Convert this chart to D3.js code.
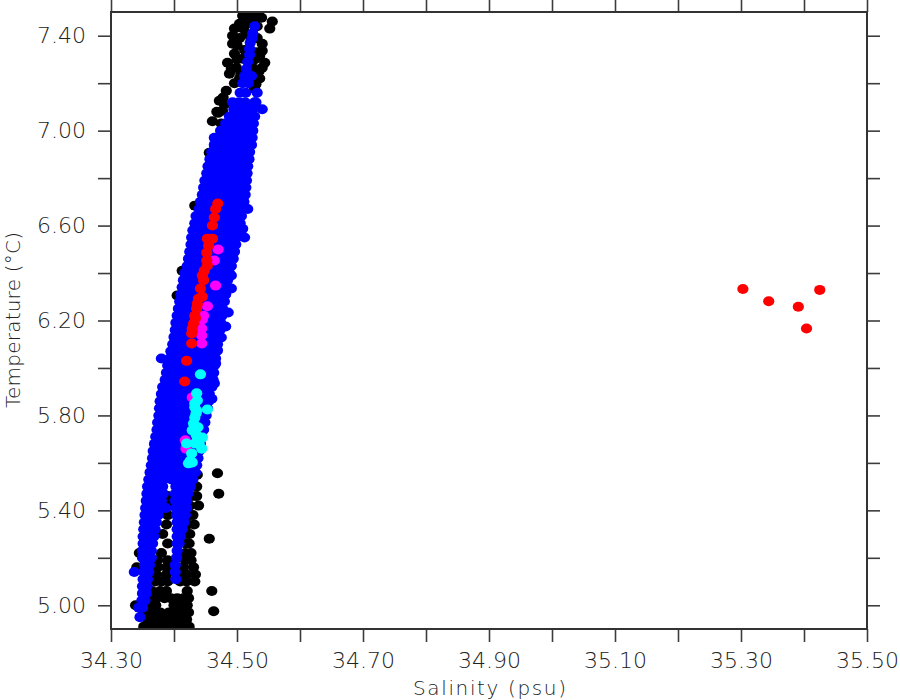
<!DOCTYPE html>
<html><head><meta charset="utf-8">
<script src="https://cdnjs.cloudflare.com/ajax/libs/d3/7.8.5/d3.min.js"></script>
<style>html,body{margin:0;padding:0;background:#fff}svg{display:block}text{font-family:"DejaVu Sans",sans-serif;font-weight:200;fill:#222}</style>
</head><body><div id="chart"></div>
<script>
const xMajorTicks = [34.3,34.5,34.7,34.9,35.1,35.3,35.5];
const xAllTicks = [34.3,34.4,34.5,34.6,34.7,34.8,34.9,35.0,35.1,35.2,35.3,35.4,35.5];
const yMajorTicks = [5.0,5.4,5.8,6.2,6.6,7.0,7.4];
const yAllTicks = [5.0,5.2,5.4,5.6,5.8,6.0,6.2,6.4,6.6,6.8,7.0,7.2,7.4];
const xTitle = "Salinity (psu)";
const yTitle = "Temperature (°C)";

// black: rows of temperature with the salinities read in that row
const blackTemps = [4.91,4.94,4.97,5.00,5.03,5.06,5.10,5.13,5.16,5.19,5.22,5.26,5.30,5.34,5.38,5.42,5.46,5.50,5.55];
const blackSalRows = [
 [34.352,34.366,34.378,34.388,34.396,34.405,34.415,34.424],
 [34.358,34.372,34.384,34.391,34.40,34.41,34.42],
 [34.352,34.365,34.378,34.392,34.402,34.412,34.423],
 [34.339,34.36,34.371,34.40,34.41,34.421],
 [34.362,34.372,34.385,34.395,34.405,34.415,34.423],
 [34.365,34.378,34.388,34.421],
 [34.37,34.38,34.39,34.41,34.42,34.433],
 [34.372,34.388,34.412,34.42,34.434],
 [34.341,34.374,34.388,34.415,34.431],
 [34.374,34.39,34.418,34.427],
 [34.345,34.38,34.418,34.427],
 [34.39,34.418,34.424],
 [34.382,34.42,34.425],
 [34.388,34.422,34.432],
 [34.39,34.424,34.43],
 [34.392,34.425,34.439],
 [34.39,34.428,34.436],
 [34.436],
 [34.437]
];
const blackOutS = [34.469,34.471,34.456,34.460,34.463,
 34.509,34.52,34.533,34.556,34.552,34.496,34.493,34.504,34.515,34.539,34.493,34.54,34.54,34.496,34.536,34.485,34.491,34.499,34.544,34.54,34.504,34.536,34.528,34.483,34.472,34.477,34.461,34.475,34.475,34.456,34.433,34.413,34.405,34.509,34.504,34.515,34.525,34.53,34.48,34.47,
 34.50,34.51,34.525,34.532,34.512,34.535,34.50,34.506,34.528,34.488,34.496,34.534,34.478,34.468,34.524,34.532,34.522,34.53];
const blackOutT = [5.556,5.47,5.28,5.06,4.975,
 7.484,7.484,7.484,7.46,7.43,7.43,7.4,7.45,7.45,7.476,7.366,7.366,7.337,7.324,7.316,7.286,7.26,7.265,7.286,7.265,7.22,7.22,7.177,7.168,7.126,7.084,7.04,7.03,6.987,6.907,6.684,6.41,6.305,7.303,7.39,7.408,7.265,7.196,7.11,7.075,
 7.36,7.43,7.47,7.44,7.34,7.25,7.30,7.24,7.30,7.24,7.2,7.25,7.14,7.08,7.33,7.39,7.39,7.33];

// blue: rows of temperature with the salinities read in that row
const blueTemps = [4.95,4.99,5.02,5.05,5.08,5.11,5.14,5.17,5.20,5.23,5.26,5.29,5.32,5.35,5.38,5.41,5.44,5.47,5.50,5.53,5.56,5.59,5.62,5.65,5.68,5.71,5.74,5.77,5.80,5.83,5.86,5.89,5.92,5.95,5.98,6.01,6.04,6.07,6.10,6.13,6.16,6.19,6.22,6.25,6.28,6.31,6.34,6.37,6.40,6.43,6.46,6.49,6.52,6.55,6.58,6.61,6.64,6.67,6.70,6.73,6.76,6.79,6.82,6.85,6.88,6.91,6.94,6.97,7.00,7.03,7.06,7.09,7.12,7.16,7.20,7.23,7.26,7.29,7.32,7.345,7.37,7.39,7.41,7.44];
const blueSalRows = [
 [34.346],
 [34.344,34.35],
 [34.349,34.354],
 [34.35,34.356],
 [34.35,34.357],
 [34.351,34.358,34.403],
 [34.337,34.352,34.36,34.402],
 [34.353,34.361,34.402],
 [34.35,34.358,34.364,34.404],
 [34.35,34.357,34.364,34.405],
 [34.351,34.358,34.366,34.405,34.408],
 [34.351,34.358,34.365,34.368,34.405,34.41],
 [34.352,34.36,34.37,34.405,34.413],
 [34.353,34.362,34.372,34.405,34.416],
 [34.354,34.363,34.375,34.404,34.412,34.418],
 [34.355,34.366,34.378,34.387,34.403,34.412,34.42],
 [34.356,34.367,34.38,34.402,34.41,34.42],
 [34.357,34.37,34.383,34.402,34.412,34.422],
 [34.358,34.37,34.382,34.403,34.414,34.426],
 [34.36,34.372,34.384,34.396,34.408,34.42,34.43],
 [34.362,34.368,34.38,34.392,34.404,34.416,34.428,34.434],
 [34.364,34.376,34.388,34.40,34.412,34.424,34.436],
 [34.366,34.372,34.384,34.396,34.408,34.42,34.432,34.438],
 [34.367,34.379,34.391,34.403,34.415,34.427,34.44],
 [34.369,34.375,34.387,34.399,34.411,34.423,34.435,34.442],
 [34.371,34.383,34.395,34.407,34.419,34.431,34.444],
 [34.373,34.379,34.391,34.403,34.415,34.427,34.439,34.447],
 [34.374,34.386,34.398,34.41,34.422,34.434,34.449],
 [34.376,34.382,34.394,34.406,34.418,34.43,34.442,34.451],
 [34.377,34.389,34.401,34.413,34.425,34.437,34.449,34.453],
 [34.378,34.384,34.396,34.408,34.42,34.432,34.444,34.455],
 [34.38,34.392,34.404,34.416,34.428,34.44,34.452,34.456],
 [34.382,34.388,34.40,34.412,34.424,34.436,34.448,34.46],
 [34.386,34.398,34.41,34.422,34.434,34.446,34.458,34.462],
 [34.388,34.394,34.406,34.418,34.43,34.442,34.454,34.463],
 [34.39,34.402,34.414,34.426,34.438,34.45,34.462,34.464],
 [34.38,34.393,34.399,34.411,34.423,34.435,34.447,34.459,34.466],
 [34.395,34.407,34.419,34.431,34.443,34.455,34.467],
 [34.398,34.404,34.416,34.428,34.44,34.452,34.464,34.469],
 [34.40,34.412,34.424,34.436,34.448,34.46,34.471],
 [34.402,34.408,34.42,34.432,34.444,34.456,34.468,34.473],
 [34.403,34.415,34.427,34.439,34.451,34.463,34.474],
 [34.405,34.411,34.423,34.435,34.447,34.459,34.471,34.476],
 [34.407,34.419,34.431,34.443,34.455,34.467,34.477],
 [34.409,34.415,34.427,34.439,34.451,34.463,34.475,34.48],
 [34.411,34.423,34.435,34.447,34.459,34.471,34.482],
 [34.413,34.419,34.431,34.443,34.455,34.467,34.479,34.484],
 [34.415,34.427,34.439,34.451,34.463,34.475,34.485],
 [34.417,34.423,34.435,34.447,34.459,34.471,34.483,34.488],
 [34.421,34.433,34.445,34.457,34.469,34.481,34.491],
 [34.423,34.429,34.441,34.453,34.465,34.477,34.489,34.494],
 [34.425,34.437,34.449,34.461,34.473,34.485,34.496],
 [34.427,34.433,34.445,34.457,34.469,34.481,34.493,34.498],
 [34.428,34.44,34.452,34.464,34.476,34.488,34.50,34.512],
 [34.43,34.436,34.448,34.46,34.472,34.484,34.496,34.502],
 [34.433,34.445,34.457,34.469,34.481,34.493,34.505],
 [34.435,34.441,34.453,34.465,34.477,34.489,34.501,34.507],
 [34.44,34.452,34.464,34.476,34.488,34.50,34.51,34.517],
 [34.442,34.448,34.46,34.472,34.484,34.496,34.508,34.511],
 [34.445,34.457,34.469,34.481,34.493,34.505,34.513],
 [34.447,34.453,34.465,34.477,34.489,34.501,34.514],
 [34.449,34.461,34.473,34.485,34.497,34.509,34.515],
 [34.452,34.458,34.47,34.482,34.494,34.506,34.516],
 [34.454,34.466,34.478,34.49,34.502,34.514,34.517],
 [34.457,34.463,34.475,34.487,34.499,34.511,34.519],
 [34.46,34.472,34.484,34.496,34.508,34.52],
 [34.464,34.47,34.482,34.494,34.506,34.518,34.523],
 [34.464,34.476,34.488,34.50,34.512,34.524],
 [34.474,34.482,34.494,34.506,34.518,34.525],
 [34.482,34.488,34.50,34.512,34.526],
 [34.488,34.494,34.506,34.518,34.528],
 [34.495,34.505,34.515,34.525,34.54],
 [34.493,34.503,34.513,34.528,34.53],
 [34.505,34.514,34.532],
 [34.509,34.518],
 [34.512,34.523],
 [34.515],
 [34.517],
 [34.52],
 [34.52],
 [34.521],
 [34.524],
 [34.525],
 [34.528]
];
const blueEdgeS = [34.509,34.495,34.491,34.491,34.486,34.482,34.475,34.469,34.466,34.464,34.46];
const blueEdgeT = [6.587,6.495,6.39,6.335,6.234,6.175,6.128,6.074,6.019,5.935,5.87];

const magentaS = [34.470,34.464,34.466,34.453,34.447,34.445,34.444,34.444,34.444,34.429,34.418,34.419];
const magentaT = [6.499,6.453,6.347,6.26,6.22,6.204,6.166,6.137,6.103,5.876,5.695,5.66];

const redS = [34.4695,34.466,34.464,34.461,34.453,34.461,34.455,34.452,34.452,34.453,34.448,34.445,34.447,34.442,34.445,34.439,34.437,34.436,34.433,34.434,34.431,34.429,34.428,34.428,34.420,34.417,35.303,35.344,35.391,35.425,35.404];
const redT = [6.693,6.67,6.634,6.6,6.545,6.545,6.516,6.486,6.453,6.432,6.41,6.39,6.37,6.335,6.3,6.293,6.27,6.25,6.22,6.21,6.187,6.166,6.145,6.103,6.03,5.943,6.333,6.281,6.258,6.329,6.166];

const cyanS = [34.442,34.436,34.437,34.433,34.453,34.435,34.433,34.436,34.433,34.431,34.429,34.445,34.437,34.420,34.433,34.444,34.428,34.423,34.429,34.438,34.44,34.426,34.435];
const cyanT = [5.973,5.893,5.863,5.834,5.825,5.808,5.85,5.82,5.79,5.766,5.737,5.707,5.707,5.682,5.682,5.66,5.64,5.598,5.602,5.75,5.68,5.61,5.72];

const W = 900, H = 700;
const pL = 111, pR = 867, pT = 12, pB = 629;
const x = d3.scaleLinear().domain([34.3,35.5]).range([pL,pR]);
const y = d3.scaleLinear().domain([4.9,7.5]).range([pB,pT]);

const svg = d3.select("#chart").append("svg").attr("width",W).attr("height",H);
svg.append("clipPath").attr("id","plot").append("rect")
  .attr("x",pL).attr("y",pT).attr("width",pR-pL).attr("height",pB-pT);

const g = svg.append("g").attr("clip-path","url(#plot)");
function flatten(temps, rows){
  const out = [];
  temps.forEach((t,i)=>rows[i].forEach(s=>out.push([s,t])));
  return out;
}
function dots(data,color){
  g.append("g").attr("fill",color).selectAll("ellipse").data(data).join("ellipse")
    .attr("cx",d=>x(d[0])).attr("cy",d=>y(d[1])).attr("rx",5.6).attr("ry",5.0);
}
dots(flatten(blackTemps,blackSalRows).concat(blackOutS.map((s,i)=>[s,blackOutT[i]])),"#000000");
dots(flatten(blueTemps,blueSalRows).concat(blueEdgeS.map((s,i)=>[s,blueEdgeT[i]])),"#0000ff");
dots(magentaS.map((s,i)=>[s,magentaT[i]]),"#ff00ff");
dots(redS.map((s,i)=>[s,redT[i]]),"#ff0000");
dots(cyanS.map((s,i)=>[s,cyanT[i]]),"#00ffff");

const tl = 13;
const fmt = d=>d.toFixed(2);
function styleAxis(a){
  a.select(".domain").remove();
  a.selectAll(".tick line").attr("stroke","#3c3c3c").attr("stroke-width",1.6);
}
const xl = d=>xMajorTicks.some(m=>Math.abs(m-d)<1e-6)?fmt(d):"";
const yl = d=>yMajorTicks.some(m=>Math.abs(m-d)<1e-6)?fmt(d):"";

const ab = svg.append("g").attr("transform",`translate(0,${pB})`)
  .call(d3.axisBottom(x).tickValues(xAllTicks).tickSize(tl).tickPadding(10).tickFormat(xl));
styleAxis(ab);
ab.selectAll("text").attr("font-size",22).attr("font-family",'"DejaVu Sans",sans-serif').attr("font-weight",200).attr("dy","0.72em").attr("fill","#222");
const at = svg.append("g").attr("transform",`translate(0,${pT})`)
  .call(d3.axisTop(x).tickValues(xAllTicks).tickSize(tl).tickFormat(""));
styleAxis(at);
const al = svg.append("g").attr("transform",`translate(${pL},0)`)
  .call(d3.axisLeft(y).tickValues(yAllTicks).tickSize(tl).tickPadding(12).tickFormat(yl));
styleAxis(al);
al.selectAll("text").attr("font-size",22).attr("font-family",'"DejaVu Sans",sans-serif').attr("font-weight",200).attr("fill","#222");
const ar = svg.append("g").attr("transform",`translate(${pR},0)`)
  .call(d3.axisRight(y).tickValues(yAllTicks).tickSize(tl).tickFormat(""));
styleAxis(ar);

svg.append("rect").attr("x",pL).attr("y",pT).attr("width",pR-pL).attr("height",pB-pT)
  .attr("fill","none").attr("stroke","#333").attr("stroke-width",2);

svg.append("text").attr("x",489.5).attr("y",695).attr("text-anchor","middle")
  .attr("font-size",20).attr("textLength",153).attr("lengthAdjust","spacing").text(xTitle);
svg.append("text").attr("transform","translate(20,320) rotate(-90)").attr("text-anchor","middle")
  .attr("font-size",20).attr("textLength",176).attr("lengthAdjust","spacing").text(yTitle);
</script></body></html>
